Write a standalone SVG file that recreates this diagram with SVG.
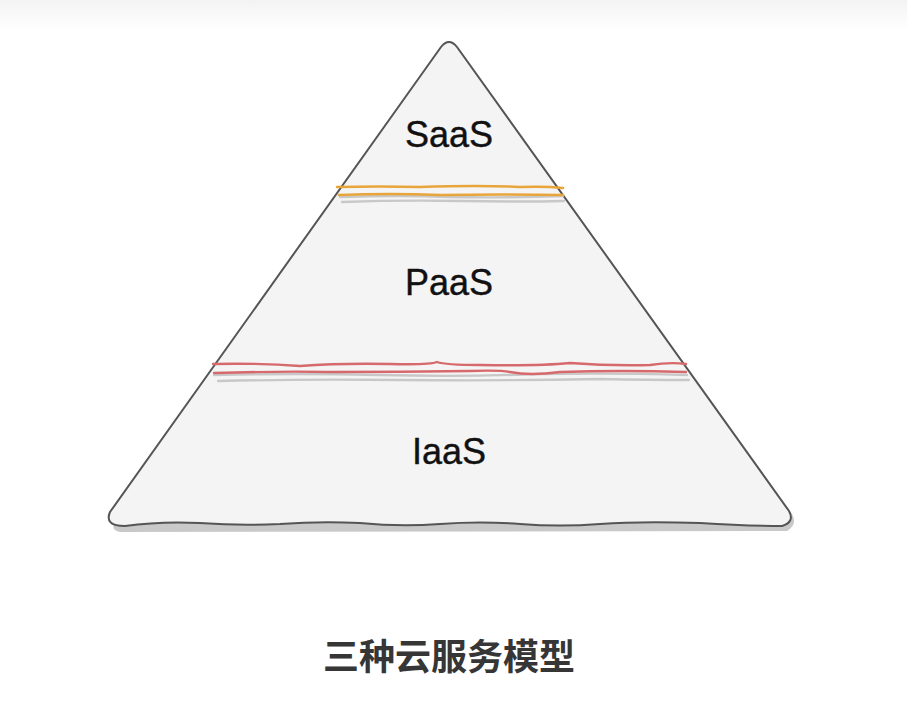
<svg xmlns="http://www.w3.org/2000/svg" width="907" height="716" viewBox="0 0 907 716">
<defs>
<linearGradient id="topg" x1="0" y1="0" x2="0" y2="1">
<stop offset="0" stop-color="#f3f3f3"/>
<stop offset="1" stop-color="#ffffff"/>
</linearGradient>
<style>
.lbl{font-family:"Liberation Sans",Arial,sans-serif;font-size:36px;fill:#111;text-anchor:middle;stroke:#111;stroke-width:0.4}
.cap{font-family:"Noto Sans CJK SC","Liberation Sans",sans-serif;font-size:36px;font-weight:bold;fill:#363636;text-anchor:middle}
.or{fill:none;stroke:#e8a53a;stroke-width:2.5;stroke-linecap:round}
.rd{fill:none;stroke:#d6696c;stroke-width:2.3;stroke-linecap:round}
.gy{fill:none;stroke:#c8c8c8;stroke-width:2.3;stroke-linecap:round}
</style>
</defs>
<rect x="0" y="0" width="907" height="716" fill="#ffffff"/>
<rect x="0" y="0" width="907" height="30" fill="url(#topg)"/>
<g id="pyramid">
<path d="M113,520 L445,48 Q450,41 455,48 L790,512 Q796,522 785,529 L118,530 Q108,528 113,520 Z" fill="#c9c9c9" transform="translate(2,2)"/>
<path d="M110,512 L441,47 Q449,37 457,47 L789,511 Q795,522 782,526 Q745,526 700,523 Q640,521 600,524 Q560,527 520,524 Q480,521 440,524 Q400,527 360,523 Q320,521 280,524 Q240,526 200,523 Q160,521 125,526 Q104,526 110,512 Z" fill="#f4f4f4" stroke="#555" stroke-width="2" stroke-linejoin="round"/>
</g>
<g id="connectors">
<path class="gy" d="M340,197 Q400,195 450,197 Q510,198 563,196"/>
<path class="gy" d="M342,202 Q400,200 460,201 Q520,202 564,201"/>
<path class="or" d="M337,187 Q380,186 420,187 Q480,185 520,187 Q545,186 563,188"/>
<path class="or" d="M339,195 Q390,193 440,195 Q500,194 563,195"/>
<path class="gy" d="M214,375 Q300,373 380,375 Q460,377 540,374 Q620,373 687,375"/>
<path class="gy" d="M218,381 Q300,379 400,380 Q500,381 600,379 Q650,380 689,380"/>
<path class="rd" d="M213,364 Q260,363 300,366 Q340,363 390,364 Q430,365 437,362 Q445,365 480,365 Q540,366 570,363 Q610,366 650,365 Q670,362 686,364"/>
<path class="rd" d="M214,373 Q280,371 330,372 Q400,372 470,371 Q500,370 510,372 Q530,376 560,372 Q620,370 686,372"/>
</g>
<g id="saas"><text class="lbl" x="449" y="147">SaaS</text></g>
<g id="paas"><text class="lbl" x="449" y="295">PaaS</text></g>
<g id="iaas"><text class="lbl" x="449" y="464">IaaS</text></g>
<g id="caption"><text class="cap" x="449" y="670">三种云服务模型</text></g>
</svg>
